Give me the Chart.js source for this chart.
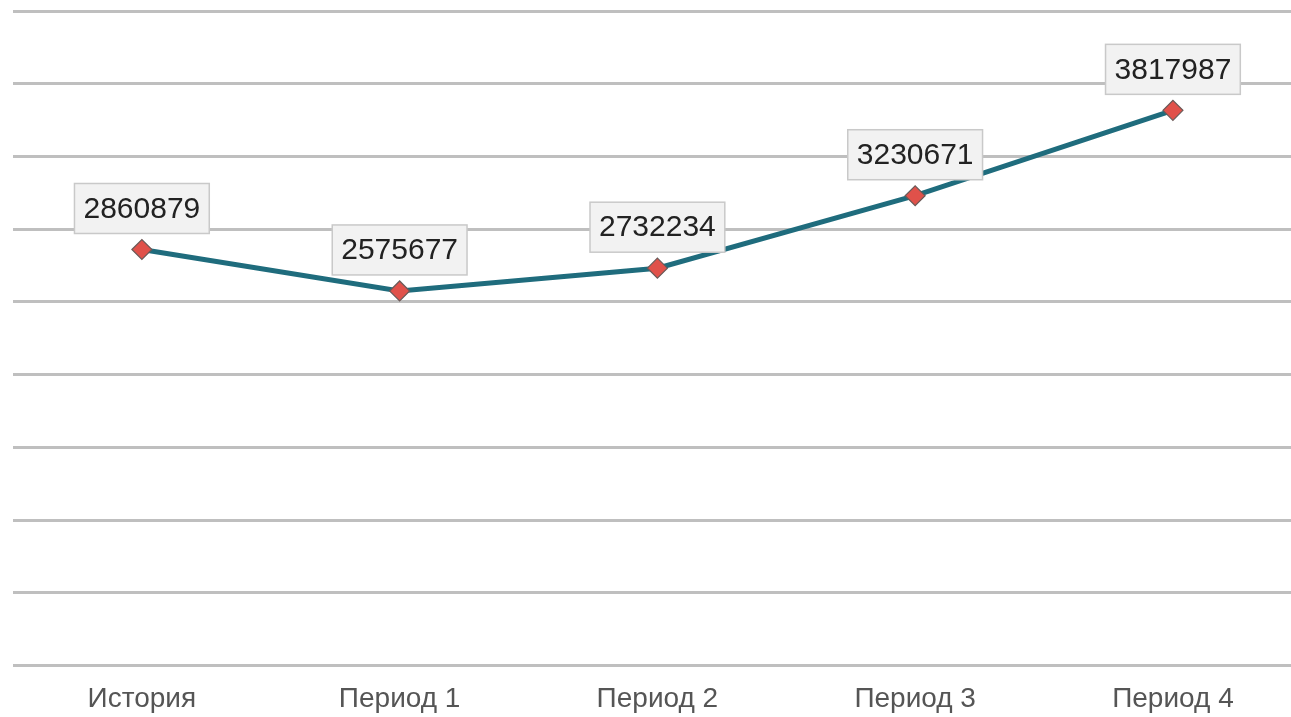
<!DOCTYPE html>
<html>
<head>
<meta charset="utf-8">
<script src="https://cdn.jsdelivr.net/npm/chart.js@4"></script>
<style>
  html, body { margin: 0; padding: 0; background: #fff; overflow: hidden; }
  #chart { display: block; }
</style>
</head>
<body>
<canvas id="chart" width="1313" height="717"></canvas>
<script>
// данные графика
const categories = ["История", "Период 1", "Период 2", "Период 3", "Период 4"];
const values = [2860879, 2575677, 2732234, 3230671, 3817987];
const yMin = 0;
const yMax = 4500000;
const yStep = 500000;

// подписи значений в серых рамках
const valueBoxes = {
  id: "valueBoxes",
  afterDatasetsDraw(chart) {
    const ctx = chart.ctx;
    const meta = chart.getDatasetMeta(0);
    ctx.save();
    ctx.font = "30px 'Liberation Sans', Arial, sans-serif";
    ctx.textAlign = "center";
    ctx.textBaseline = "middle";
    meta.data.forEach((pt, i) => {
      const txt = String(values[i]);
      const w = ctx.measureText(txt).width + 18;
      const h = 50;
      const x = pt.x - w / 2;
      const y = pt.y - 16 - h;
      ctx.fillStyle = "#f2f2f2";
      ctx.fillRect(x, y, w, h);
      ctx.strokeStyle = "#c9c9c9";
      ctx.lineWidth = 1.5;
      ctx.strokeRect(x, y, w, h);
      ctx.fillStyle = "#222";
      ctx.fillText(txt, pt.x, y + h / 2 + 1);
    });
    ctx.restore();
  }
};

new Chart(document.getElementById("chart"), {
  type: "line",
  data: {
    labels: categories,
    datasets: [{
      data: values,
      borderColor: "#1f6c7d",
      borderWidth: 5,
      tension: 0,
      pointStyle: "rectRot",
      pointRadius: 10,
      pointHoverRadius: 10,
      pointBackgroundColor: "#e0514a",
      pointBorderColor: "#6b5a58",
      pointBorderWidth: 1.2
    }]
  },
  options: {
    responsive: false,
    animation: false,
    layout: { padding: { top: 11, left: 13, right: 0, bottom: -8 } },
    plugins: { legend: { display: false }, tooltip: { enabled: false } },
    scales: {
      x: {
        offset: true,
        grid: { display: false },
        border: { display: false },
        ticks: {
          color: "#555",
          font: { family: "'Liberation Sans', Arial, sans-serif", size: 28 },
          padding: 9
        }
      },
      y: {
        min: yMin,
        max: yMax,
        ticks: { display: false, stepSize: yStep },
        border: { display: false },
        grid: { color: "#bfbfbf", lineWidth: 3, drawTicks: false }
      }
    }
  },
  plugins: [valueBoxes]
});
</script>
</body>
</html>
